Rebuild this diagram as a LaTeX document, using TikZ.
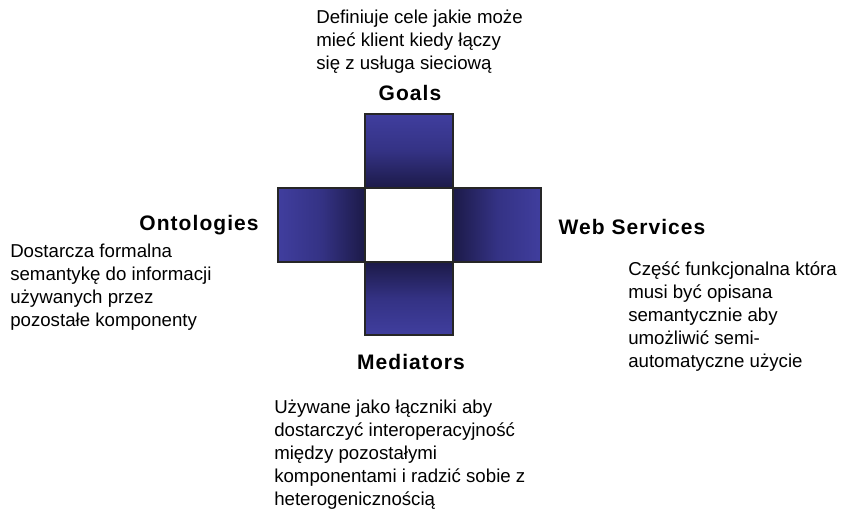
\documentclass[tikz,border=0pt]{standalone}
\usepackage{fontspec}
\setmainfont{Liberation Sans}
\newfontfamily\titlefont[LetterSpace=5]{Liberation Sans Bold}
\begin{document}
\begin{tikzpicture}[x=0.75pt,y=-0.75pt,
  cell/.style={draw=black!85,line width=0.8pt},
  title/.style={font=\titlefont\fontsize{15.75pt}{18pt}\selectfont,inner sep=0pt},
  desc/.style={font=\fontsize{14pt}{17.25pt}\selectfont,align=left,inner sep=0pt,anchor=north west}]
\definecolor{blueLight}{RGB}{64,62,158}
\definecolor{blueMid}{RGB}{52,50,132}
\definecolor{blueDark}{RGB}{28,26,72}
\useasboundingbox (0,0) rectangle (841,510);

% cross of four shaded arms around a white centre
\shade[top color=blueLight,bottom color=blueDark,middle color=blueMid] (365,114) rectangle (453,188);
\shade[top color=blueDark,bottom color=blueLight,middle color=blueMid] (365,262) rectangle (453,335);
\shade[left color=blueLight,right color=blueDark,middle color=blueMid] (278,188) rectangle (365,262);
\shade[left color=blueDark,right color=blueLight,middle color=blueMid] (453,188) rectangle (541,262);
\node[cell,fill=white,minimum width=88*0.75pt,minimum height=74*0.75pt,inner sep=0pt] (center) at (409,225) {};
\draw[cell] (365,114) rectangle (453,188);
\draw[cell] (365,262) rectangle (453,335);
\draw[cell] (278,188) rectangle (365,262);
\draw[cell] (453,188) rectangle (541,262);

% titles
\node[title] (goals) at (410,93) {Goals};
\node[title] (onto) at (199,225) {Ontologies};
\node[title] (ws) at (632,227) {Web Services};
\node[title] (med) at (411,362) {Mediators};

% descriptions
\node[desc] (dgoals) at (316,10) {Definiuje cele jakie może\\mieć klient kiedy łączy\\się z usługa sieciową};
\node[desc] (donto) at (10,244) {Dostarcza formalna\\semantykę do informacji\\używanych przez\\pozostałe komponenty};
\node[desc] (dws) at (628,261) {Część funkcjonalna która\\musi być opisana\\semantycznie aby\\umożliwić semi-\\automatyczne użycie};
\node[desc] (dmed) at (274,400) {Używane jako łączniki aby\\dostarczyć interoperacyjność\\między pozostałymi\\komponentami i radzić sobie z\\heterogenicznością};
\end{tikzpicture}
\end{document}
